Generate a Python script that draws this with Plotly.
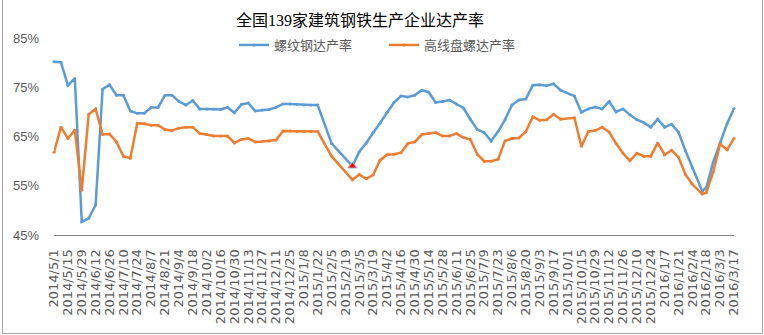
import plotly.graph_objects as go

# Weekly survey dates (holiday weeks without a release are absent)
dates = [
    "2014-05-01", "2014-05-08", "2014-05-15", "2014-05-22", "2014-05-29",
    "2014-06-05", "2014-06-12", "2014-06-19", "2014-06-26", "2014-07-03",
    "2014-07-10", "2014-07-17", "2014-07-24", "2014-07-31", "2014-08-07",
    "2014-08-14", "2014-08-21", "2014-08-28", "2014-09-04", "2014-09-11",
    "2014-09-18", "2014-09-25", "2014-10-02", "2014-10-09", "2014-10-16",
    "2014-10-23", "2014-10-30", "2014-11-06", "2014-11-13", "2014-11-20",
    "2014-11-27", "2014-12-04", "2014-12-11", "2014-12-18", "2014-12-25",
    "2015-01-01", "2015-01-08", "2015-01-15", "2015-01-22", "2015-02-05",
    "2015-02-26", "2015-03-05", "2015-03-12", "2015-03-19", "2015-03-26",
    "2015-04-02", "2015-04-09", "2015-04-16", "2015-04-23", "2015-04-30",
    "2015-05-07", "2015-05-14", "2015-05-21", "2015-05-28", "2015-06-04",
    "2015-06-11", "2015-06-18", "2015-06-25", "2015-07-02", "2015-07-09",
    "2015-07-16", "2015-07-23", "2015-07-30", "2015-08-06", "2015-08-13",
    "2015-08-20", "2015-08-27", "2015-09-03", "2015-09-10", "2015-09-17",
    "2015-09-24", "2015-10-08", "2015-10-15", "2015-10-22", "2015-10-29",
    "2015-11-05", "2015-11-12", "2015-11-19", "2015-11-26", "2015-12-03",
    "2015-12-10", "2015-12-17", "2015-12-24", "2015-12-31", "2016-01-07",
    "2016-01-14", "2016-01-21", "2016-01-28", "2016-02-04", "2016-02-14",
    "2016-02-18", "2016-02-25", "2016-03-03", "2016-03-10", "2016-03-17",
]

# 螺纹钢达产率 (%)
rebar = [
    80.2, 80.1, 75.4, 76.8, 47.7, 48.4, 51.1, 74.6, 75.5, 73.4,
    73.4, 70.2, 69.7, 69.7, 70.9, 70.9, 73.4, 73.4, 72.1, 71.4,
    72.3, 70.6, 70.6, 70.6, 70.5, 70.9, 69.8, 71.5, 71.8, 70.2,
    70.4, 70.5, 70.9, 71.6, 71.6, 71.5, 71.4, 71.4, 71.4, 63.6,
    59.0, 61.9, 63.7, 65.8, 67.7, 69.9, 71.9, 73.2, 73.0, 73.4,
    74.4, 74.0, 71.9, 72.1, 72.4, 71.6, 70.8, 68.5, 66.4, 65.8,
    64.1, 66.0, 68.4, 71.4, 72.4, 72.6, 75.4, 75.5, 75.3, 75.7,
    74.4, 73.2, 69.9, 70.6, 71.0, 70.6, 72.1, 70.0, 70.6, 69.4,
    68.4, 67.8, 66.9, 68.5, 66.9, 67.5, 65.9, 62.1, 58.6, 53.9,
    54.6, 59.8, 63.7, 67.6, 70.7,
]

# 高线盘螺达产率 (%)
wire = [
    61.8, 66.9, 64.6, 66.3, 54.1, 69.5, 70.6, 65.4, 65.5, 63.9,
    61.0, 60.6, 67.7, 67.6, 67.3, 67.3, 66.4, 66.2, 66.7, 66.9,
    66.9, 65.6, 65.4, 65.1, 65.1, 65.1, 63.7, 64.4, 64.6, 63.9,
    64.0, 64.1, 64.3, 66.1, 66.1, 66.0, 66.0, 66.0, 66.0, 61.0,
    56.2, 57.3, 56.4, 57.2, 60.2, 61.3, 61.4, 61.7, 63.6, 63.9,
    65.4, 65.6, 65.8, 65.1, 65.1, 65.6, 64.8, 64.4, 61.4, 60.0,
    60.0, 60.4, 64.1, 64.6, 64.7, 66.0, 69.0, 68.3, 68.4, 69.5,
    68.5, 68.8, 63.0, 66.0, 66.2, 66.9, 65.9, 63.6, 61.6, 60.1,
    61.6, 61.0, 61.0, 63.7, 61.3, 62.2, 60.8, 57.3, 55.3, 53.3,
    53.6, 57.8, 63.5, 62.3, 64.6,
]

series_names = ["螺纹钢达产率", "高线盘螺达产率"]
title_text = "全国139家建筑钢铁生产企业达产率"
highlight_date = "2015-02-26"

BLUE = "#5B9BD5"
ORANGE = "#ED7D31"
GREY_TXT = "#595959"

fig = go.Figure()
fig.add_trace(go.Scatter(
    x=dates, y=rebar, name=series_names[0], mode="lines+markers",
    line=dict(color=BLUE, width=2.5), marker=dict(color=BLUE, size=3),
    cliponaxis=False,
))
fig.add_trace(go.Scatter(
    x=dates, y=wire, name=series_names[1], mode="lines+markers",
    line=dict(color=ORANGE, width=2.5), marker=dict(color=ORANGE, size=3),
    cliponaxis=False,
))

# highlighted low point on the rebar series
hi = dates.index(highlight_date)
fig.add_trace(go.Scatter(
    x=[dates[hi]], y=[rebar[hi]], mode="markers", showlegend=False,
    marker=dict(symbol="triangle-up", size=8, color="#FF0000",
                line=dict(color="#9DC3E6", width=1)),
    cliponaxis=False,
))

L, R, T, B = 54, 30, 38, 100
W, H = 764, 335
pw, ph = W - L - R, H - T - B


def px_to_paper_x(px):
    return (px - L) / pw


def px_to_paper_y(py):
    return (H - B - py) / ph


# chart-area frame
frame = dict(type="line", xref="paper", yref="paper",
             line=dict(color="#A6A6A6", width=1))
x0, x1 = px_to_paper_x(2.5), px_to_paper_x(762.5)
y0, y1 = px_to_paper_y(333.5), px_to_paper_y(-2)
shapes = [
    dict(frame, x0=x0, x1=x0, y0=y0, y1=y1),
    dict(frame, x0=x1, x1=x1, y0=y0, y1=y1),
    dict(frame, x0=x0, x1=x1, y0=y0, y1=y0),
]

fig.update_layout(
    width=W, height=H,
    margin=dict(l=L, r=R, t=T, b=B, pad=0),
    paper_bgcolor="white", plot_bgcolor="white",
    shapes=shapes,
    title=dict(
        text=title_text, x=360 / W, xanchor="center",
        y=1 - 20 / H, yanchor="middle", yref="container",
        font=dict(family="Liberation Serif, Noto Sans CJK SC", size=16,
                  color="#000000"),
    ),
    legend=dict(
        orientation="h", x=px_to_paper_x(384), xanchor="center",
        y=px_to_paper_y(45), yanchor="middle",
        font=dict(family="Noto Sans CJK SC", size=13, color=GREY_TXT),
        bgcolor="rgba(0,0,0,0)", entrywidth=105, itemwidth=30,
    ),
    xaxis=dict(
        type="date",
        range=["2014-05-01", "2016-03-17"],
        tick0="2014-05-01", dtick=14 * 86400000,
        tickformat="%Y/%-m/%-d", tickangle=-90,
        tickfont=dict(family="DejaVu Sans", size=13, color=GREY_TXT),
        showgrid=False, zeroline=False,
        showline=True, linecolor="#868686", linewidth=1,
        ticks="", ticklabelstandoff=8,
    ),
    yaxis=dict(
        range=[45, 85], dtick=10, tick0=45, ticksuffix="%",
        tickfont=dict(family="Liberation Sans", size=13, color=GREY_TXT),
        showgrid=False, zeroline=False, showline=False,
        ticks="", ticklabelstandoff=14,
    ),
)

fig.write_html("out.html")
